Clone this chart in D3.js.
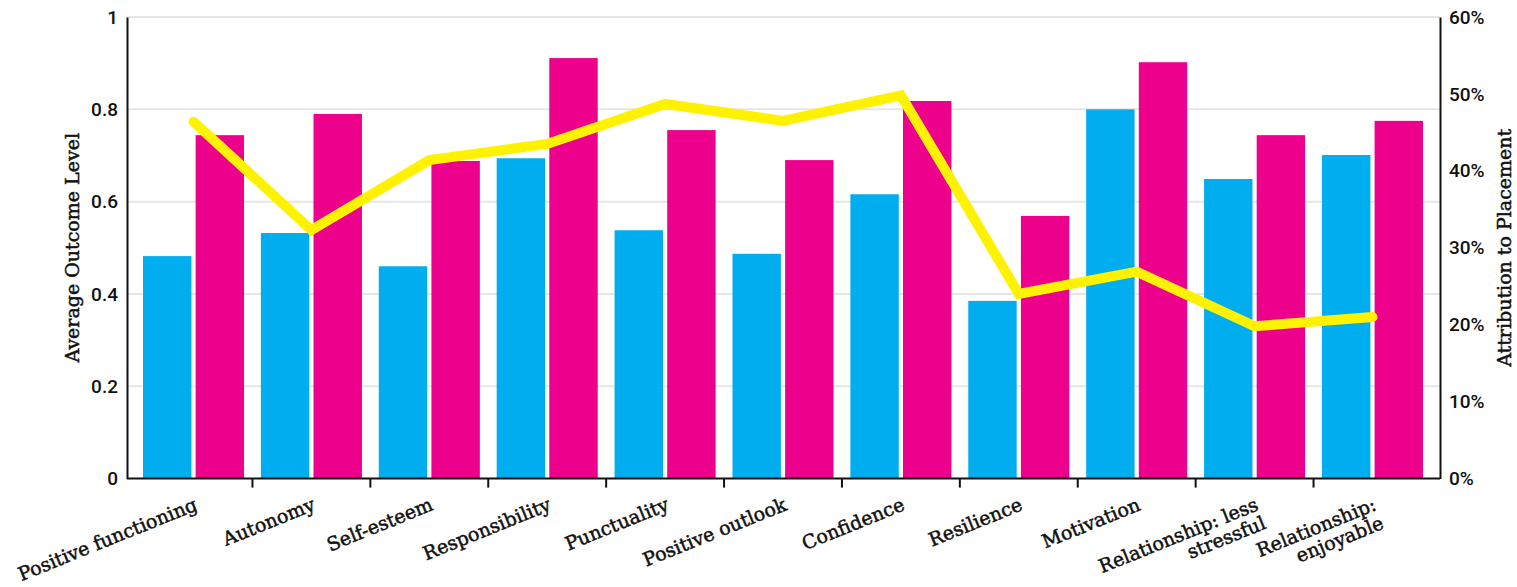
<!DOCTYPE html>
<html><head><meta charset="utf-8">
<script src="https://cdn.jsdelivr.net/npm/d3@7"></script>
<style>
html,body{margin:0;padding:0;background:#fff;}
text{fill:#111;}
.lab{font-family:"DejaVu Serif",serif;font-size:19px;stroke:#111;stroke-width:0.5px;}
.num{font-family:Roboto,sans-serif;font-weight:500;font-size:19px;}
</style></head>
<body><svg id="c" width="1517" height="587"></svg>
<script>
const categories = ["Positive functioning","Autonomy","Self-esteem","Responsibility","Punctuality","Positive outlook","Confidence","Resilience","Motivation","Relationship: less stressful","Relationship: enjoyable"];
const labelLines = [["Positive functioning"],["Autonomy"],["Self-esteem"],["Responsibility"],["Punctuality"],["Positive outlook"],["Confidence"],["Resilience"],["Motivation"],["Relationship: less","stressful"],["Relationship:","enjoyable"]];
const beforeValues = [0.482,0.532,0.460,0.694,0.538,0.487,0.616,0.385,0.800,0.649,0.701];
const afterValues  = [0.744,0.790,0.688,0.911,0.755,0.690,0.818,0.569,0.902,0.744,0.775];
const attribution  = [0.464,0.323,0.414,0.435,0.487,0.465,0.498,0.240,0.269,0.198,0.210];
const leftTicks = [0,0.2,0.4,0.6,0.8,1];
const rightTicks = [0,0.1,0.2,0.3,0.4,0.5,0.6];

const svg = d3.select("#c");
const L = 127, R = 1440, T = 17, B = 478.6;
const x0 = d3.scaleBand().domain(categories).range([131.2, 1434.8]).paddingInner(0.143).paddingOuter(0.1);
const x1 = d3.scaleBand().domain(["before","after"]).range([0, x0.bandwidth()]).paddingInner(0.08);
const y = d3.scaleLinear().domain([0,1]).range([B, T]);
const y2 = d3.scaleLinear().domain([0,0.6]).range([B, T]);

// grid
svg.append("g").selectAll("line").data(leftTicks.slice(1)).join("line")
  .attr("x1", L).attr("x2", R).attr("y1", d=>y(d)).attr("y2", d=>y(d))
  .attr("stroke", "#e6e6e6").attr("stroke-width", 2);

// bars
const groups = svg.append("g").selectAll("g").data(categories).join("g")
  .attr("transform", d=>`translate(${x0(d)},0)`);
groups.append("rect").attr("x", x1("before")).attr("width", x1.bandwidth())
  .attr("y", (d,i)=>y(beforeValues[i])).attr("height", (d,i)=>B - y(beforeValues[i]))
  .attr("fill", "#00aeef");
groups.append("rect").attr("x", x1("after")).attr("width", x1.bandwidth())
  .attr("y", (d,i)=>y(afterValues[i])).attr("height", (d,i)=>B - y(afterValues[i]))
  .attr("fill", "#ec008c");

// line
const line = d3.line().x((d,i)=>x0(categories[i]) + x0.bandwidth()/2).y(d=>y2(d));
svg.append("path").datum(attribution).attr("d", line)
  .attr("fill","none").attr("stroke","#fff200").attr("stroke-width",10)
  .attr("stroke-linecap","round").attr("stroke-linejoin","miter");

// left axis
const ly = svg.append("g").attr("transform", `translate(${L},0)`)
  .call(d3.axisLeft(y).tickValues(leftTicks).tickFormat(d=>d===0?"0":d===1?"1":d3.format(".1f")(d)).tickSize(0).tickPadding(9));
ly.select(".domain").attr("stroke","#111").attr("stroke-width",2);
ly.selectAll("text").attr("class","num").attr("fill","#111");
ly.attr("font-family",null).attr("font-size",null);

// right axis
const ry = svg.append("g").attr("transform", `translate(${R},0)`)
  .call(d3.axisRight(y2).tickValues(rightTicks).tickFormat(d3.format(".0%")).tickSize(0).tickPadding(9));
ry.select(".domain").attr("stroke","#111").attr("stroke-width",2);
ry.selectAll("text").attr("class","num").attr("fill","#111");
ry.attr("font-family",null).attr("font-size",null);

// x axis line and boundary ticks
svg.append("line").attr("x1", L).attr("x2", R).attr("y1", B).attr("y2", B).attr("stroke","#111").attr("stroke-width",2);
svg.append("g").selectAll("line").data(categories.slice(1)).join("line")
  .attr("x1", d=>x0(d) - x0.step()*x0.paddingInner()/2).attr("x2", d=>x0(d) - x0.step()*x0.paddingInner()/2)
  .attr("y1", B).attr("y2", B+9).attr("stroke","#111").attr("stroke-width",2);

// x labels
const xl = svg.append("g").selectAll("text").data(categories).join("text")
  .attr("class","lab")
  .attr("transform", d=>`translate(${x0(d)+x0.bandwidth()/2+5},${B+31}) rotate(-22)`)
  .attr("text-anchor","end");
xl.each(function(d,i){
  const t = d3.select(this);
  labelLines[i].forEach((s,j)=>t.append("tspan").attr("x",0).attr("dy", j===0?0:"1.05em").text(s));
});

// titles
svg.append("text").attr("class","lab").attr("transform", `translate(79,${(T+B)/2}) rotate(-90)`)
  .attr("text-anchor","middle").text("Average Outcome Level");
svg.append("text").attr("class","lab").attr("transform", `translate(1511,${(T+B)/2}) rotate(-90)`)
  .attr("text-anchor","middle").text("Attribution to Placement");
</script></body></html>
